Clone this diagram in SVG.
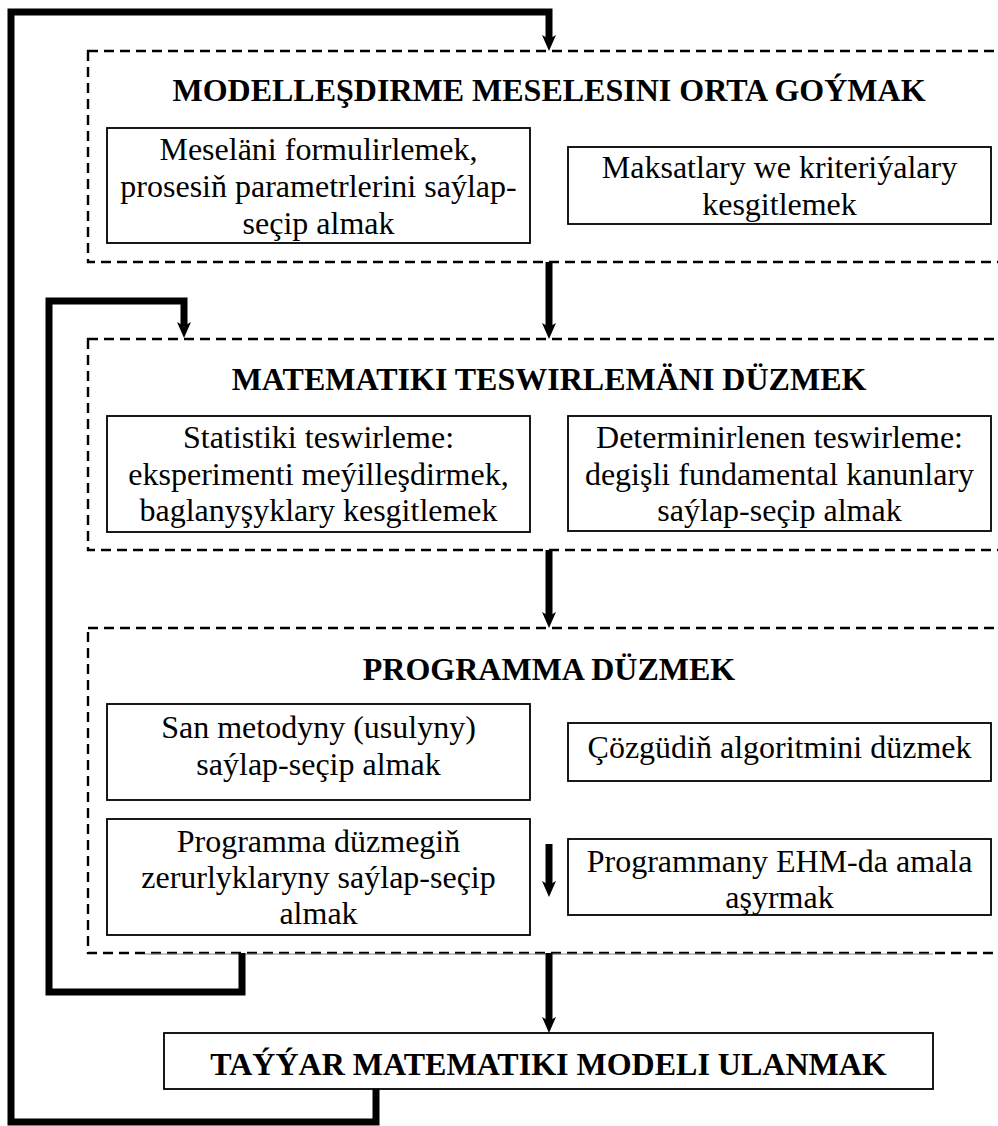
<svg xmlns="http://www.w3.org/2000/svg" width="998" height="1126" viewBox="0 0 998 1126">
<style>
.bg{fill:#fff}
.dash{fill:none;stroke:#000;stroke-width:2.4;stroke-dasharray:10 6}
.box{fill:#fff;stroke:#000;stroke-width:1.8}
.t{font-family:"Liberation Serif","Times New Roman",serif;font-size:32px;fill:#000;text-anchor:middle}
.h{font-family:"Liberation Serif","Times New Roman",serif;font-size:32px;font-weight:bold;fill:#000;text-anchor:middle}
.c{fill:none;stroke:#000;stroke-width:7;stroke-linejoin:miter}
</style>
<defs>
<marker id="ah" markerUnits="userSpaceOnUse" viewBox="0 -8 17 16" refX="4" refY="0" markerWidth="17" markerHeight="16" orient="auto" overflow="visible">
<path d="M0,-7 L16,0 L0,7 L4,0 Z" fill="#000"/>
</marker>
</defs>
<rect class="bg" x="0" y="0" width="998" height="1126"/>

<g id="stage1">
<rect class="dash" x="88" y="51" width="930" height="211"/>
<text class="h" x="549" y="101">MODELLEŞDIRME MESELESINI ORTA GOÝMAK</text>
</g>
<g id="boxA">
<rect class="box" x="107" y="128" width="423" height="115"/>
<text class="t" x="318.5" y="160">Meseläni formulirlemek,</text>
<text class="t" x="318.5" y="197">prosesiň parametrlerini saýlap-</text>
<text class="t" x="318.5" y="234">seçip almak</text>
</g>
<g id="boxB">
<rect class="box" x="568" y="147" width="423" height="77"/>
<text class="t" x="779.5" y="178">Maksatlary we kriteriýalary</text>
<text class="t" x="779.5" y="215">kesgitlemek</text>
</g>

<g id="stage2">
<rect class="dash" x="88" y="339" width="930" height="211"/>
<text class="h" x="549" y="390">MATEMATIKI TESWIRLEMÄNI DÜZMEK</text>
</g>
<g id="boxC">
<rect class="box" x="107" y="416" width="423" height="116"/>
<text class="t" x="318.5" y="448">Statistiki teswirleme:</text>
<text class="t" x="318.5" y="485">eksperimenti meýilleşdirmek,</text>
<text class="t" x="318.5" y="521">baglanyşyklary kesgitlemek</text>
</g>
<g id="boxD">
<rect class="box" x="568" y="416" width="423" height="115"/>
<text class="t" x="779.5" y="448">Determinirlenen teswirleme:</text>
<text class="t" x="779.5" y="485">degişli fundamental kanunlary</text>
<text class="t" x="779.5" y="521">saýlap-seçip almak</text>
</g>

<g id="stage3">
<rect class="dash" x="88" y="628" width="930" height="325"/>
<line x1="145" y1="954" x2="933" y2="954" stroke="#888" stroke-width="1"/>
<text class="h" x="549" y="680">PROGRAMMA DÜZMEK</text>
</g>
<g id="boxE">
<rect class="box" x="107" y="704" width="423" height="96"/>
<text class="t" x="318.5" y="738">San metodyny (usulyny)</text>
<text class="t" x="318.5" y="775">saýlap-seçip almak</text>
</g>
<g id="boxF">
<rect class="box" x="568" y="723" width="423" height="58"/>
<text class="t" x="779.5" y="758">Çözgüdiň algoritmini düzmek</text>
</g>
<g id="boxG">
<rect class="box" x="107" y="819" width="423" height="116"/>
<text class="t" x="318.5" y="852">Programma düzmegiň</text>
<text class="t" x="318.5" y="888">zerurlyklaryny saýlap-seçip</text>
<text class="t" x="318.5" y="924">almak</text>
</g>
<g id="boxH">
<rect class="box" x="568" y="839" width="423" height="76"/>
<text class="t" x="779.5" y="872">Programmany EHM-da amala</text>
<text class="t" x="779.5" y="908">aşyrmak</text>
</g>

<g id="final">
<rect class="box" x="164" y="1033" width="769" height="56"/>
<text class="h" x="548.5" y="1075">TAÝÝAR MATEMATIKI MODELI ULANMAK</text>
</g>

<g id="connectors">
<path class="c" d="M376,1089 V1122 H11 V12 H549 V39" marker-end="url(#ah)"/>
<path class="c" d="M242,953 V992 H49 V301 H184 V326" marker-end="url(#ah)"/>
<path class="c" d="M549,262 V327" marker-end="url(#ah)"/>
<path class="c" d="M549,550 V616" marker-end="url(#ah)"/>
<path class="c" d="M549,844 V885" marker-end="url(#ah)"/>
<path class="c" d="M549,953 V1021" marker-end="url(#ah)"/>
</g>
</svg>
